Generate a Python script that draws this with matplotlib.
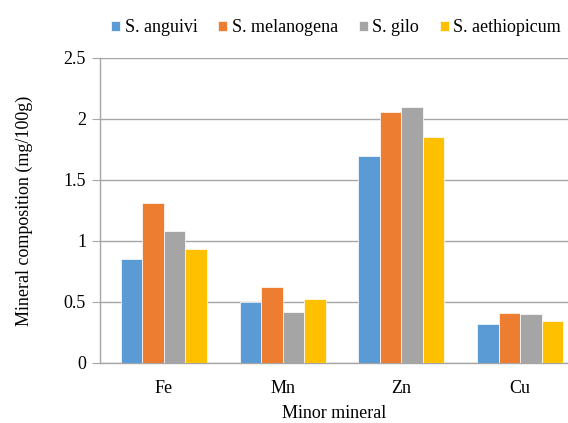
import matplotlib.pyplot as plt
import numpy as np

plt.rcParams["font.family"] = ["Liberation Serif", "DejaVu Serif"]

# ---------------------------------------------------------------------------
# Data (mg/100g)
# ---------------------------------------------------------------------------
minerals = ["Fe", "Mn", "Zn", "Cu"]
species = ["S. anguivi", "S. melanogena", "S. gilo", "S. aethiopicum"]
anguivi = [0.85, 0.50, 1.70, 0.32]
melanogena = [1.31, 0.62, 2.06, 0.41]
gilo = [1.08, 0.42, 2.10, 0.40]
aethiopicum = [0.93, 0.52, 1.85, 0.34]
yticks = [0, 0.5, 1, 1.5, 2, 2.5]
ytick_labels = ["0", "0.5", "1", "1.5", "2", "2.5"]

colors = ["#5B9BD5", "#ED7D31", "#A5A5A5", "#FFC000"]
grid_color = "#A6A6A6"
FS = 13

fig = plt.figure(figsize=(5.68, 4.23), dpi=100)
# right edge runs off the canvas, as in the (cropped) original
ax = fig.add_axes([0.176, 0.142, 0.824, 0.721])

x = np.arange(len(minerals))
bar_w = 0.181
series = [anguivi, melanogena, gilo, aethiopicum]
for i, (vals, name, col) in enumerate(zip(series, species, colors)):
    ax.bar(x + (i - 1.5) * bar_w, vals, bar_w, color=col, label=name,
           edgecolor="white", linewidth=0.5, zorder=3)

ax.set_xlim(-0.539, 3.404)
ax.set_ylim(0, 2.5)
ax.set_yticks(yticks)
ax.set_yticklabels(ytick_labels)
ax.set_xticks(x)
ax.set_xticklabels(minerals)
ax.yaxis.grid(True, color=grid_color, linewidth=1.0, zorder=0)
ax.set_axisbelow(True)

for side in ["top", "right"]:
    ax.spines[side].set_visible(False)
for side in ["left", "bottom"]:
    ax.spines[side].set_color(grid_color)
    ax.spines[side].set_linewidth(1.0)

ax.tick_params(axis="y", length=6, color=grid_color, labelsize=FS, pad=4)
ax.tick_params(axis="x", length=0, labelsize=FS, pad=12)

ax.set_ylabel("Mineral composition (mg/100g)", fontsize=FS, labelpad=22)
ax.set_xlabel("Minor mineral", fontsize=FS, labelpad=6)

fig.legend(loc="center", bbox_to_anchor=(0.592, 0.934), ncol=4,
           frameon=False, fontsize=FS, handlelength=0.5, handleheight=0.5,
           handletextpad=0.25, columnspacing=1.15)

fig.savefig("out.png", dpi=100)
